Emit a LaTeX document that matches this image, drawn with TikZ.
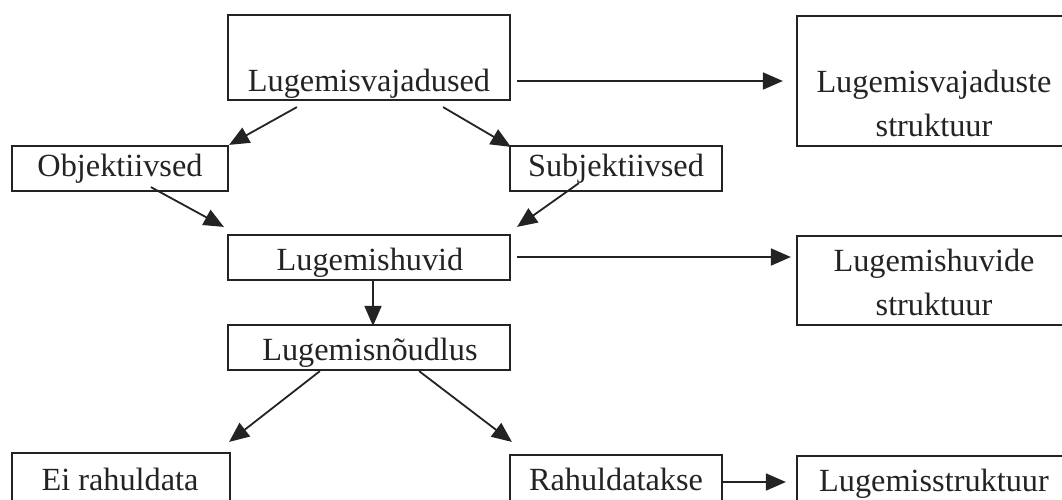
\documentclass[tikz,border=0pt]{standalone}
\usepackage{fontspec}
\setmainfont{Liberation Serif}
\usetikzlibrary{arrows.meta,calc}
\definecolor{ink}{RGB}{35,35,35}
\begin{document}
\begin{tikzpicture}[x={(1pt,0)},y={(0,-1pt)},
  box/.style={draw=ink,line width=2.2pt,inner sep=0pt,rectangle},
  txt/.style={text=ink,inner sep=0pt,anchor=base,font=\fontsize{32.3}{44}\selectfont,align=center},
  arr/.style={draw=ink,line width=1.8pt,-{Triangle[length=20pt,width=17pt]}}]
\useasboundingbox (0,0) rectangle (1062,499);
\clip (0,0) rectangle (1062,499);
% boxes
\node[box,minimum width=282pt,minimum height=85pt] (lv) at (369,57.5) {};
\node[box,minimum width=273pt,minimum height=130pt] (lvs) at (933.5,81) {};
\node[box,minimum width=216pt,minimum height=45pt] (obj) at (120,168.5) {};
\node[box,minimum width=212pt,minimum height=45pt] (sub) at (616,168.5) {};
\node[box,minimum width=282pt,minimum height=45pt] (lh) at (369,257.5) {};
\node[box,minimum width=273pt,minimum height=89pt] (lhs) at (933.5,280.5) {};
\node[box,minimum width=282pt,minimum height=45pt] (ln) at (369,347.5) {};
\node[box,minimum width=218pt,minimum height=62pt] (ei) at (121,484) {};
\node[box,minimum width=212pt,minimum height=60pt] (rah) at (616,485) {};
\node[box,minimum width=273pt,minimum height=59pt] (ls) at (933.5,485.5) {};
% texts
\node[txt] (lvT) at (369,91) {Lugemisvajadused};
\node[txt] (lvsT) at (934,136) {Lugemisvajaduste\\struktuur};
\node[txt] (objT) at (120,176) {Objektiivsed};
\node[txt] (subT) at (616,176) {Subjektiivsed};
\node[txt] (lhT) at (370,270) {Lugemishuvid};
\node[txt] (lhsT) at (934,315) {Lugemishuvide\\struktuur};
\node[txt] (lnT) at (370,360) {Lugemisnõudlus};
\node[txt] (eiT) at (120,490) {Ei rahuldata};
\node[txt] (rahT) at (616,490) {Rahuldatakse};
\node[txt] (lsT) at (934,491) {Lugemisstruktuur};
% connectors
\draw[arr] ($(lv.east |- lvs.west)+(6,0)$) -- ($(lvs.west)+(-13,0)$);
\draw[arr] ($(lh.east)+(6,-0.5)$) -- ($(lh.east -| lhs.west)+(-5,-0.5)$);
\draw[arr] ($(rah.east)+(0,-3)$) -- ($(rah.east -| ls.west)+(-10,-3)$);
\draw[arr] ($(lv.south west)+(70,6)$) -- (obj.north east);
\draw[arr] ($(lv.south east)+(-68,6)$) -- ($(sub.north west)+(2,2)$);
\draw[arr] ($(obj.south west)+(140,-5)$) -- ($(lh.north west)+(-3,-7)$);
\draw[arr] ($(sub.south west)+(70,-9)$) -- ($(lh.north east)+(6,-7)$);
\draw[arr] ($(lh.south)+(4,0)$) -- ($(ln.north)+(4,2)$);
\draw[arr] ($(ln.south west)+(93,0)$) -- ($(ei.north east)+(-2,-10)$);
\draw[arr] ($(ln.south east)+(-92,0)$) -- ($(rah.north west)+(3,-12)$);
\end{tikzpicture}
\end{document}
